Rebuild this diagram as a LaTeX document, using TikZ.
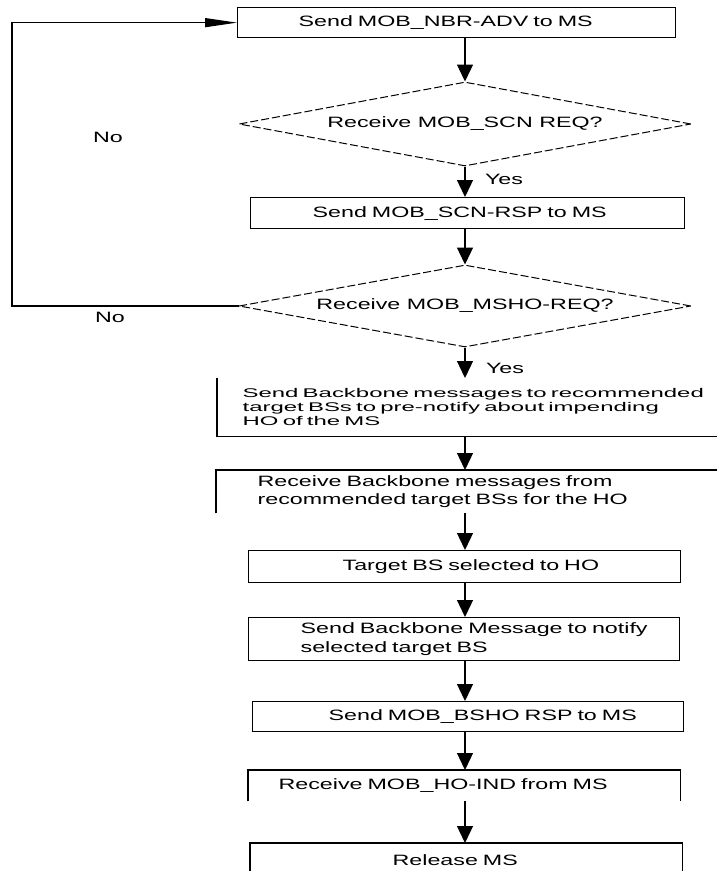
\documentclass[tikz,border=0pt]{standalone}
\usepackage{fontspec}
\newfontfamily\boxfont[FakeStretch=1.55]{Liberation Sans}
\newfontfamily\squeezefont[FakeStretch=1.9]{Liberation Sans}
\usetikzlibrary{shapes.geometric, arrows.meta}

\begin{document}
\begin{tikzpicture}[x=1pt, y=-1pt, line width=1.3pt,
  proc/.style={draw, rectangle, anchor=north west, inner xsep=0pt, inner ysep=0pt, align=left,
    font=\boxfont\fontsize{15pt}{18.5pt}\selectfont},
  proco/.style={proc, draw=none},
  lpad/.style={execute at begin node={\leftskip=#1\relax}},
  decision/.style={diamond, draw, dash pattern=on 8pt off 3pt, line width=1pt, aspect=5.4,
    inner sep=0pt, minimum width=452pt, font=\boxfont\fontsize{15pt}{18.5pt}\selectfont},
  tag/.style={font=\boxfont\fontsize{15pt}{18.5pt}\selectfont},
  arr/.style={-{Triangle[length=17pt, width=16pt]}}]
  \useasboundingbox (0,0) rectangle (717,871);
  % steps
  \node[proc, text width=438pt, minimum height=30pt, lpad=61pt] (b1) at (237,7) {Send MOB\_NBR-ADV to MS};
  \node[decision, minimum height=84pt] (d1) at (465,124) {Receive MOB\_SCN REQ?};
  \node[proc, text width=434pt, minimum height=31pt, lpad=62pt] (b2) at (250,197) {Send MOB\_SCN-RSP to MS};
  \node[decision, minimum height=82pt] (d2) at (465,306) {Receive MOB\_MSHO-REQ?};
  \node[proco, text width=523pt, minimum height=57pt, lpad=25pt,
    font=\squeezefont\fontsize{12.6pt}{14pt}\selectfont] (b3) at (217,378)
    {Send Backbone messages to recommended\\target BSs to pre-notify about impending\\HO of the MS};
  \node[proco, text width=524pt, minimum height=42pt, lpad=41pt] (b4) at (216,470)
    {Receive Backbone messages from\\recommended target BSs for the HO};
  \node[proc, text width=432pt, minimum height=32pt, lpad=94pt] (b5) at (248,550) {Target BS selected to HO};
  \node[proc, text width=431pt, minimum height=43pt, lpad=52pt] (b6) at (248,617)
    {Send Backbone Message to notify\\selected target BS};
  \node[proc, text width=431pt, minimum height=30pt, lpad=76pt] (b7) at (252,701) {Send MOB\_BSHO RSP to MS};
  \node[proco, text width=431pt, minimum height=30pt, lpad=30pt] (b8) at (248,770) {Receive MOB\_HO-IND from MS};
  \node[proco, text width=431pt, minimum height=32pt, lpad=142pt] (b9) at (250,843) {Release MS};
  % open box edges
  \draw (b3.north west) -- (b3.south west) -- (b3.south east);
  \draw (b4.south west) -- (b4.north west) -- (b4.north east);
  \draw (b8.south west) -- (b8.north west) -- (b8.north east) -- (b8.south east);
  \draw (b9.south west) -- (b9.north west) -- (b9.north east) -- (b9.south east);
  % flow
  \foreach \from/\to in {b1/d1, d1/b2, b2/d2, d2/b3, b3/b4, b4/b5, b5/b6, b6/b7, b7/b8, b8/b9}
    \draw[arr] (\from.south -| d2) -- (\to.north -| d2);
  % loop back
  \coordinate (back) at (12,0);
  \draw[-{Triangle[length=32pt, width=9pt]}] (d2.west) -- (d2.west -| back) |- (b1.west);
  % labels
  \node[tag] (no1) at (108,137) {No};
  \node[tag] (no2) at (110,317) {No};
  \node[tag] (yes1) at (504,179) {Yes};
  \node[tag] (yes2) at (505,368) {Yes};
\end{tikzpicture}
\end{document}
